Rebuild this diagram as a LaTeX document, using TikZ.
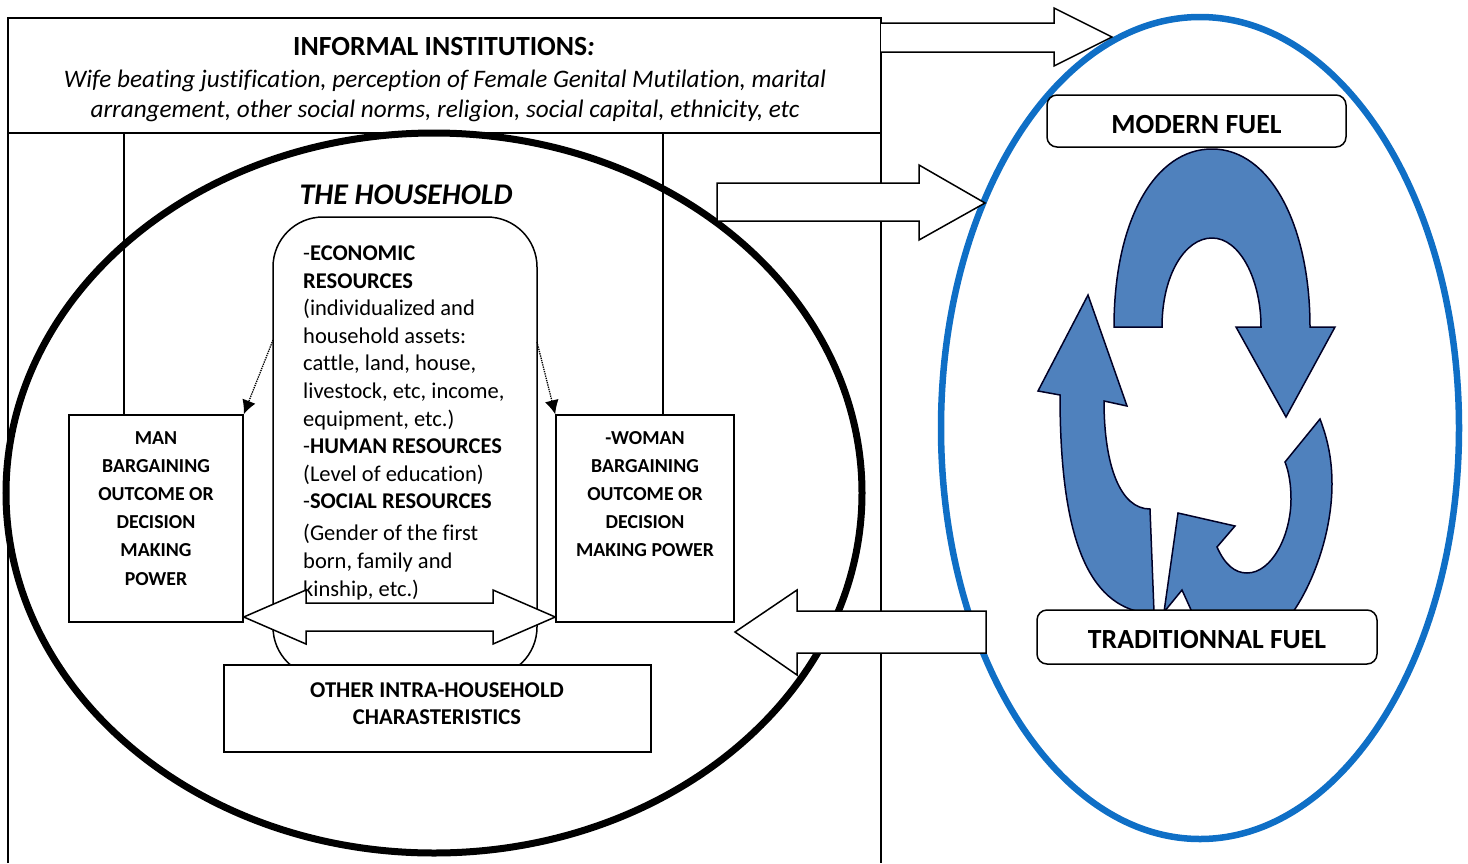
\documentclass[tikz,border=0pt]{standalone}
\usepackage{fontspec}
\setmainfont[Ligatures=NoCommon]{Carlito}
\usetikzlibrary{arrows.meta}
\definecolor{cycleblue}{HTML}{4F81BD}
\definecolor{ringblue}{HTML}{0F6FC6}
\tikzset{
  frameline/.style={draw=black,line width=1.5pt},
  blockarrow/.style={draw=black,fill=white,line width=1.5pt,line join=miter},
  labelbox/.style={draw=black,fill=white,line width=1.5pt,inner sep=0pt,minimum width=#1},
  roundbox/.style={draw=black,fill=white,line width=1.5pt,rounded corners=10pt,inner sep=0pt,minimum width=#1},
  cyclearrow/.style={draw=black!85!blue,fill=cycleblue,line width=1.5pt,line join=miter},
  dotarrow/.style={densely dotted,line width=1.3pt,-{Latex[length=14pt,width=14pt]}},
  boxtext/.style={align=center,inner sep=0pt,font=\fontsize{19.8}{28.2}\selectfont\bfseries},
  bodytext/.style={align=left,inner sep=0pt,font=\fontsize{22.5}{27.6}\selectfont},
  titletext/.style={inner sep=0pt,font=\fontsize{27.7}{30}\selectfont\bfseries},
}
\begin{document}
\begin{tikzpicture}[x=1pt,y=-1pt]
\useasboundingbox (0,0) rectangle (1468,863);
% frame
\draw[frameline] (8,863) -- (8,18) -- (881,18) -- (881,863);
\draw[frameline] (8,133) -- (881,133);
\node[titletext] (info) at (444,47) {INFORMAL INSTITUTIONS\textit{:}};
\node[align=center,inner sep=0pt,font=\fontsize{25.2}{30}\selectfont\itshape] (infotext) at (445,96) {Wife beating justification, perception of Female Genital Mutilation, marital\\
  arrangement, other social norms, religion, social capital, ethnicity, etc};
\coordinate (manTop) at (124,133);
\coordinate (womanTop) at (663,133);
% centre rounded box
\draw[frameline,rounded corners=50pt] (273,677) -- (273,217) -- (537,217) -- (537,677) -- cycle;
% household ellipse
\draw[line width=7pt] (434,493) ellipse [x radius=428,y radius=360];
\node[inner sep=0pt,font=\fontsize{30}{32}\selectfont\bfseries\itshape] (household) at (406,195) {THE HOUSEHOLD};
% boxes
\node[labelbox=174pt,minimum height=207pt] (man) at (156,518.5) {};
\node[labelbox=178pt,minimum height=207pt] (woman) at (645,518.5) {};
\node[boxtext,anchor=north] (mantext) at (156,431) {MAN\\BARGAINING\\OUTCOME OR\\DECISION\\MAKING\\POWER};
\node[boxtext,anchor=north] (womantext) at (645,431) {-WOMAN\\BARGAINING\\OUTCOME OR\\DECISION\\MAKING POWER};
\draw[frameline] (manTop) -- (manTop |- man.north);
\draw[frameline] (womanTop) -- (womanTop |- woman.north);
\node[labelbox=427pt,minimum height=87pt] (other) at (437.5,708.5) {};
\node[align=center,inner sep=0pt,font=\fontsize{22.6}{27.5}\selectfont\bfseries] (othertext) at (437,703.7) {OTHER INTRA-HOUSEHOLD\\CHARASTERISTICS};
% central text
\node[bodytext,anchor=north west] (res) at (303,245.5) {%
-\textbf{ECONOMIC}\\
\textbf{RESOURCES}\\
(individualized and\\
household assets:\\
cattle, land, house,\\
livestock, etc, income,\\
equipment, etc.)\\
-\textbf{HUMAN RESOURCES}\\
(Level of education)\\
-\textbf{SOCIAL RESOURCES}\\[4.5pt]
(Gender of the first\\
born, family and\\
kinship, etc.)};
% dotted
\coordinate (resL) at (273,340);
\coordinate (resR) at (537,342);
\draw[dotarrow] (resL) -- (man.north east);
\draw[dotarrow] (resR) -- (woman.north west);
% double arrow
\draw[blockarrow] (man.east |- 0,617) -- (306,590) -- (306,603) -- (493,603) -- (493,590) -- (woman.west |- 0,617) -- (493,644) -- (493,631) -- (306,631) -- (306,644) -- cycle;
% blue ring
\draw[draw=ringblue,line width=6.5pt] (1200,428) ellipse [x radius=259,y radius=411];
% block arrows
\draw[blockarrow] (881,23) -- (1054,23) -- (1054,8) -- (1112,37) -- (1054,66) -- (1054,52) -- (881,52);
\draw[blockarrow] (717,183) -- (919,183) -- (919,165) -- (985,203) -- (919,240) -- (919,221) -- (717,221) -- cycle;
\draw[blockarrow] (986,611) -- (797,611) -- (797,590) -- (735,632) -- (797,675) -- (797,653) -- (986,653) -- cycle;
% cycle arrows
\draw[cyclearrow] (1114,327) .. controls (1114,220) and (1155,149) .. (1212,149)
  .. controls (1270,149) and (1310,225) .. (1310,327) -- (1335,327) -- (1286,417) -- (1236,327) -- (1261,327)
  .. controls (1261,280) and (1240,238) .. (1212,238) .. controls (1185,238) and (1162,275) .. (1162,327) -- cycle;
\draw[cyclearrow] (1088,295) -- (1127,406) -- (1104,401)
  .. controls (1104,465) and (1120,509) .. (1150,509) -- (1154,612) -- (1140,612)
  .. controls (1085,600) and (1060,530) .. (1060,395) -- (1038,391) -- cycle;
\draw[cyclearrow] (1320,419) .. controls (1328,440) and (1332,460) .. (1332,484)
  .. controls (1332,530) and (1315,580) .. (1293,612) -- (1192,612) -- (1182,590) -- (1164,612) -- (1178,513) -- (1235,526) -- (1217,547)
  .. controls (1225,565) and (1235,573) .. (1247,573) .. controls (1272,573) and (1291,535) .. (1291,499)
  .. controls (1291,485) and (1289,472) .. (1285,462) -- cycle;
% fuel boxes
\node[roundbox=299pt,minimum height=52pt] (modern) at (1196.5,121) {};
\node[titletext,yshift=-4pt] (moderntext) at (modern.center) {MODERN FUEL};
\node[roundbox=340pt,minimum height=54pt] (trad) at (1207,637) {};
\node[titletext,yshift=-3pt] (tradtext) at (trad.center) {TRADITIONNAL FUEL};
\end{tikzpicture}
\end{document}
